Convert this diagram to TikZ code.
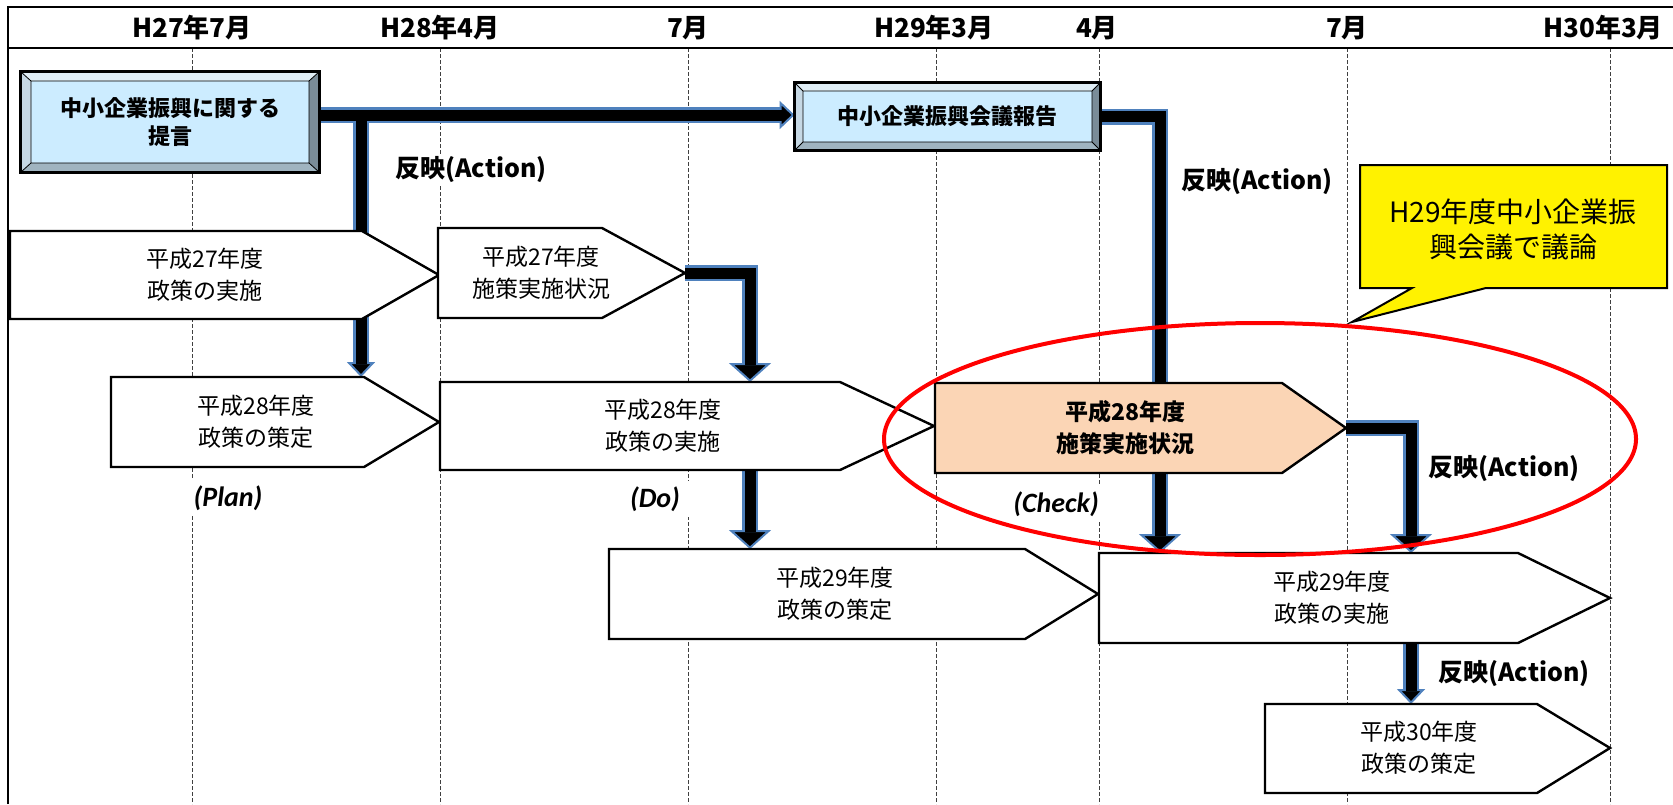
\documentclass[tikz,border=0pt]{standalone}
\usepackage{fontspec}
\setmainfont{Noto Sans CJK JP}
\newfontfamily\latinfont{Carlito}
\usetikzlibrary{arrows.meta}
\usetikzlibrary{shapes.geometric}

\definecolor{flowblue}{RGB}{79,129,189}
\definecolor{faceblue}{RGB}{204,236,255}
\definecolor{bevtopc}{RGB}{224,238,246}
\definecolor{bevleftc}{RGB}{198,216,228}
\definecolor{bevbotc}{RGB}{160,180,192}
\definecolor{bevrightc}{RGB}{122,140,152}
\definecolor{peach}{RGB}{251,213,181}

\pgfdeclarelayer{grid}
\pgfdeclarelayer{flow}
\pgfsetlayers{grid,flow,main}

\tikzset{
  grid line/.style={draw=black!75, line width=0.5pt, dash pattern=on 2pt off 1pt},
  head/.style={font=\bfseries\fontsize{13}{15}\selectfont},
  capbox/.style={fill=faceblue, inner sep=0pt, align=center, font=\bfseries\fontsize{11}{14}\selectfont},
  plate/.style={draw, line width=1.2pt, fill=white, line join=miter},
  platetext/.style={align=center, font=\fontsize{11.5}{16}\selectfont},
  flow/.style={draw=flowblue, line width=8pt, line join=miter},
  core/.style={draw=black, line width=5.5pt, line join=miter},
  headS/.style={-{Triangle[length=7.5pt,width=14pt,line width=1pt,fill=black]}},
  headL/.style={-{Triangle[length=9.5pt,width=21pt,line width=1pt,fill=black]}},
  act/.style={fill=white, inner sep=1pt, font=\bfseries\fontsize{12.5}{16}\selectfont},
  phase/.style={fill=white, inner xsep=6pt, inner ysep=3pt, font=\latinfont\bfseries\itshape\fontsize{14}{16}\selectfont},
  callout/.style={draw, line width=1pt, fill=yellow, line join=miter},
  notetext/.style={align=center, font=\fontsize{14}{17.5}\selectfont}
}

\begin{document}
\begin{tikzpicture}[x=0.5pt,y=-0.5pt]
\useasboundingbox (0,0) rectangle (1673,804);

% frame and time axis
\draw[line width=1pt] (8,804) -- (8,7) -- (1673,7);
\draw[line width=1.3pt] (8,48) -- (1673,48);

\node[head] (h1) at (192,28) {H27年7月};
\node[head] (h2) at (440,28) {H28年4月};
\node[head] (h3) at (688,28) {7月};
\node[head] (h4) at (934,28) {H29年3月};
\node[head] (h5) at (1097,28) {4月};
\node[head] (h6) at (1347,28) {7月};
\node[head] (h7) at (1603,28) {H30年3月};

\begin{pgfonlayer}{grid}
\draw[grid line] (192,48) -- (192,804);
\draw[grid line] (440,48) -- (440,804);
\draw[grid line] (688,48) -- (688,804);
\draw[grid line] (936,48) -- (936,804);
\draw[grid line] (1099,48) -- (1099,804);
\draw[grid line] (1347,48) -- (1347,804);
\draw[grid line] (1610,48) -- (1610,804);
\end{pgfonlayer}

% bevelled boxes
\node[capbox, minimum width=149pt, minimum height=50pt] (rec) at (170,122) {中小企業振興に関する\\提言};
\fill[bevtopc] (21,72) -- (319,72) -- (309,81) -- (31,81) -- cycle;
\fill[bevleftc] (21,72) -- (31,81) -- (31,163) -- (21,172) -- cycle;
\fill[bevbotc] (21,172) -- (31,163) -- (309,163) -- (319,172) -- cycle;
\fill[bevrightc] (319,72) -- (309,81) -- (309,163) -- (319,172) -- cycle;
\draw[line width=0.4pt] (31,81) rectangle (309,163) (21,72) -- (31,81) (319,72) -- (309,81) (21,172) -- (31,163) (319,172) -- (309,163);
\draw[line width=1.4pt] (rec.south west) rectangle (rec.north east);

\node[capbox, minimum width=152.5pt, minimum height=33.5pt] (rep) at (947.5,116.5) {中小企業振興会議報告};
\fill[bevtopc] (795,83) -- (1100,83) -- (1092,91) -- (803,91) -- cycle;
\fill[bevleftc] (795,83) -- (803,91) -- (803,142) -- (795,150) -- cycle;
\fill[bevbotc] (795,150) -- (803,142) -- (1092,142) -- (1100,150) -- cycle;
\fill[bevrightc] (1100,83) -- (1092,91) -- (1092,142) -- (1100,150) -- cycle;
\draw[line width=0.4pt] (803,91) rectangle (1092,142) (795,83) -- (803,91) (1100,83) -- (1092,91) (795,150) -- (803,142) (1100,150) -- (1092,142);
\draw[line width=1.4pt] (rep.south west) rectangle (rep.north east);

% home plates
\draw[plate] (10,231) coordinate (p27do-nw) -- (362,231) -- (439,275) coordinate (p27do-tip) -- (362,319) -- (10,319) -- cycle;
\node[platetext] (p27do) at (205,275) {平成27年度\\政策の実施};

\draw[plate] (438,228) coordinate (p27chk-nw) -- (602,228) -- (685,273) coordinate (p27chk-tip) -- (602,318) -- (438,318) -- cycle;
\node[platetext] (p27chk) at (541,273) {平成27年度\\施策実施状況};

\draw[plate] (111,377) coordinate (p28plan-nw) -- (364,377) -- (439,422) -- (364,467) -- (111,467) -- cycle;
\node[platetext] (p28plan) at (256,422) {平成28年度\\政策の策定};

\draw[plate] (440,382) coordinate (p28do-nw) -- (840,382) -- (934,426) -- (840,470) -- (440,470) coordinate (p28do-sw) -- cycle;
\node[platetext] (p28do) at (663,426) {平成28年度\\政策の実施};

\draw[plate, fill=peach] (935,383) -- (1282,383) -- (1346,428) coordinate (p28chk-tip) -- (1282,473) -- (935,473) -- cycle;
\node[platetext, font=\bfseries\fontsize{11.5}{16}\selectfont] (p28chk) at (1125,428) {平成28年度\\施策実施状況};

\draw[plate] (609,549) coordinate (p29plan-nw) -- (1025,549) -- (1098,594) -- (1025,639) -- (609,639) -- cycle;
\node[platetext] (p29plan) at (835,594) {平成29年度\\政策の策定};

\draw[plate] (1099,553) coordinate (p29do-nw) -- (1518,553) -- (1610,598) -- (1518,643) -- (1099,643) coordinate (p29do-sw) -- cycle;
\node[platetext] (p29do) at (1332,598) {平成29年度\\政策の実施};

\draw[plate] (1265,704) coordinate (p30plan-nw) -- (1537,704) -- (1610,748) -- (1537,793) -- (1265,793) -- cycle;
\node[platetext] (p30plan) at (1419,748) {平成30年度\\政策の策定};

% thick flow arrows
\begin{pgfonlayer}{flow}
\coordinate (jA) at (361,115);
\coordinate (jB) at (1160,116.5);
\coordinate (jC) at (750,273);
\coordinate (jD) at (1411,428);
\draw[flow,headS] (rec.east |- jA) -- (rep.west |- jA);
\draw[flow,headS] (jA) -- (jA |- p28plan-nw);
\draw[flow,headL] (rep.east) -| (jB |- p29do-nw);
\draw[flow,headL] (p27chk-tip) -| (jC |- p28do-nw);
\draw[flow,headL] (jC |- p28do-sw) -- (jC |- p29plan-nw);
\draw[flow,headL] (p28chk-tip) -| (jD |- p29do-nw);
\draw[flow,headS] (jD |- p29do-sw) -- (jD |- p30plan-nw);
\draw[core,shorten >=6.5pt] (rec.east |- jA) -- (rep.west |- jA);
\draw[core,shorten >=6.5pt] (jA) -- (jA |- p28plan-nw);
\draw[core,shorten >=8.5pt] (rep.east) -| (jB |- p29do-nw);
\draw[core,shorten >=8.5pt] (p27chk-tip) -| (jC |- p28do-nw);
\draw[core,shorten >=8.5pt] (jC |- p28do-sw) -- (jC |- p29plan-nw);
\draw[core,shorten >=8.5pt] (p28chk-tip) -| (jD |- p29do-nw);
\draw[core,shorten >=6.5pt] (jD |- p29do-sw) -- (jD |- p30plan-nw);
\end{pgfonlayer}

% labels
\node[act, anchor=west] (act1) at (393,170) {反映(Action)};
\node[act, anchor=west] (act2) at (1179,182) {反映(Action)};
\node[act, anchor=west] (act3) at (1426,468) {反映(Action)};
\node[act, anchor=west] (act4) at (1436,673) {反映(Action)};

\node[phase] (plan) at (228,498) {(Plan)};
\node[phase] (do) at (655,499) {(Do)};
\node[phase] (check) at (1056,504) {(Check)};

% note
\draw[callout] (1360,165) -- (1667,165) -- (1667,288) -- (1486,288) -- (1352,322) -- (1412,288) -- (1360,288) -- cycle;
\node[notetext] (note) at (1513,229) {H29年度中小企業振\\興会議で議論};

\node[draw=red, line width=2pt, ellipse, minimum width=376pt, minimum height=116pt, inner sep=0pt] (focus) at (1260,439) {};

\end{tikzpicture}
\end{document}
